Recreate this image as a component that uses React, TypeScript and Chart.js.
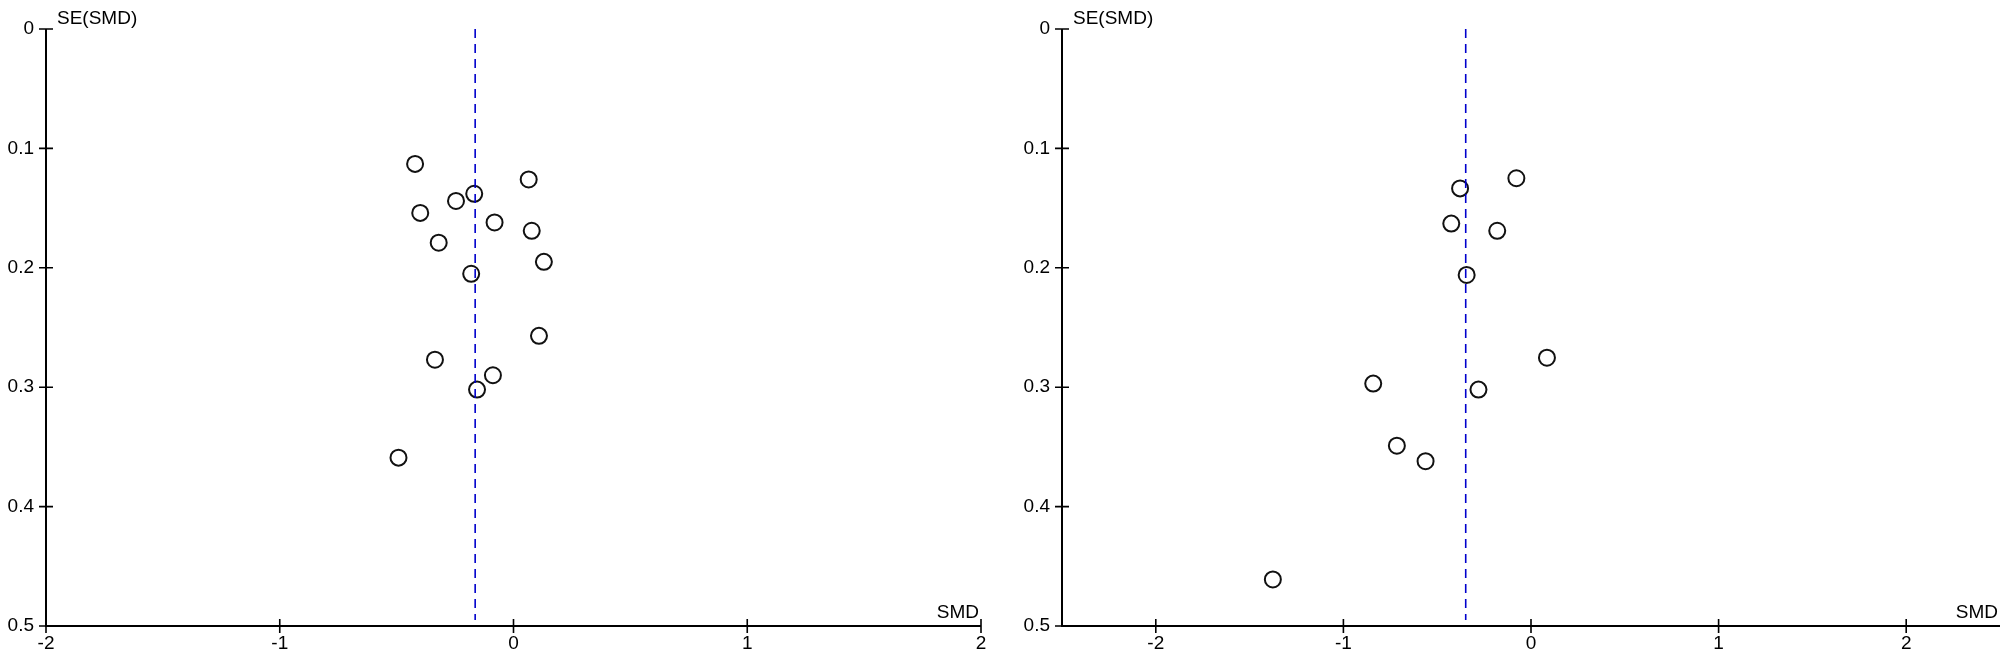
import React, { useEffect, useRef } from 'react';
import { Chart, registerables } from 'chart.js';

Chart.register(...registerables);

const FONT = "'Liberation Sans', Arial, Helvetica, sans-serif";

// Left funnel plot
const leftSMD = [-0.421, 0.065, -0.168, -0.246, -0.399, -0.081, 0.078, -0.32, 0.13, -0.181, 0.109, -0.336, -0.088, -0.156, -0.492];
const leftSE = [0.113, 0.126, 0.138, 0.144, 0.154, 0.162, 0.169, 0.179, 0.195, 0.205, 0.257, 0.277, 0.29, 0.302, 0.359];
const leftPooled = -0.164;
const leftXRange = [-2, 2];

// Right funnel plot
const rightSMD = [-0.078, -0.378, -0.425, -0.18, -0.343, 0.085, -0.841, -0.28, -0.715, -0.562, -1.376];
const rightSE = [0.125, 0.1335, 0.163, 0.169, 0.206, 0.2753, 0.297, 0.302, 0.349, 0.362, 0.461];
const rightPooled = -0.348;
const rightXRange = [-2.5, 2.5];

// Axes
const xTicks = [-2, -1, 0, 1, 2];
const xTickLabels = ['-2', '-1', '0', '1', '2'];
const seTicks = [0, 0.1, 0.2, 0.3, 0.4, 0.5];
const seTickLabels = ['0', '0.1', '0.2', '0.3', '0.4', '0.5'];
const seMax = 0.5;
const pooledLineEnd = 0.495;
const xTitle = 'SMD';
const yTitle = 'SE(SMD)';

const funnelAxes = {
  id: 'funnelAxes',
  afterDraw(chart: any) {
    const { ctx, chartArea, scales } = chart;
    const xs = scales.x;
    const ys = scales.y;
    const ax = chartArea.left;
    const yTop = ys.getPixelForValue(0);
    const yBot = ys.getPixelForValue(seMax);
    const xEnd = xs.getPixelForValue(xs.max);
    ctx.save();
    ctx.strokeStyle = '#000';
    ctx.lineWidth = 2;
    ctx.lineCap = 'butt';
    ctx.beginPath();
    ctx.moveTo(ax, yTop);
    ctx.lineTo(ax, yBot + 1);
    ctx.moveTo(ax - 1, yBot);
    ctx.lineTo(xEnd, yBot);
    ctx.stroke();
    ctx.lineWidth = 1.6;
    ctx.beginPath();
    seTicks.forEach((v) => {
      const p = ys.getPixelForValue(v);
      ctx.moveTo(ax - 7, p);
      ctx.lineTo(v === seMax ? ax : ax + 7, p);
    });
    xTicks.forEach((v) => {
      const p = xs.getPixelForValue(v);
      ctx.moveTo(p, p <= ax + 1 ? yBot : yBot - 7);
      ctx.lineTo(p, yBot + 7);
    });
    ctx.stroke();
    ctx.fillStyle = '#000';
    ctx.font = `19px ${FONT}`;
    ctx.textBaseline = 'alphabetic';
    ctx.textAlign = 'left';
    ctx.fillText(yTitle, ax + 11, yTop - 5);
    ctx.textAlign = 'right';
    ctx.fillText(xTitle, xEnd - 2, yBot - 8);
    ctx.restore();
  },
};

function makeConfig(smd: number[], se: number[], pooled: number, xRange: number[], yAxisWidth: number, padRight: number): any {
  return {
    type: 'scatter',
    data: {
      datasets: [
        {
          type: 'line',
          data: [
            { x: pooled, y: 0 },
            { x: pooled, y: pooledLineEnd },
          ],
          borderColor: '#0000cc',
          borderWidth: 1.6,
          borderDash: [9, 6],
          pointRadius: 0,
          fill: false,
        },
        {
          data: smd.map((v, i) => ({ x: v, y: se[i] })),
          pointStyle: 'circle',
          pointRadius: 8,
          pointBorderWidth: 2,
          borderColor: '#000',
          backgroundColor: 'rgba(0,0,0,0)',
          pointBackgroundColor: 'rgba(0,0,0,0)',
          pointBorderColor: '#111',
        },
      ],
    },
    options: {
      responsive: false,
      animation: false,
      devicePixelRatio: 1,
      layout: { padding: { top: 29, right: padRight, left: 0, bottom: 0 } },
      plugins: { legend: { display: false }, tooltip: { enabled: false }, title: { display: false } },
      scales: {
        x: {
          type: 'linear',
          min: xRange[0],
          max: xRange[1],
          afterBuildTicks: (scale: any) => {
            scale.ticks = xTicks.map((v) => ({ value: v }));
          },
          afterFit: (scale: any) => {
            scale.height = 35;
          },
          grid: { display: false, drawTicks: false },
          border: { display: false },
          ticks: {
            autoSkip: false,
            maxRotation: 0,
            padding: 6,
            color: '#000',
            font: { family: FONT, size: 19 },
            callback: (_v: any, i: number) => xTickLabels[i],
          },
        },
        y: {
          type: 'linear',
          reverse: true,
          min: 0,
          max: seMax,
          afterBuildTicks: (scale: any) => {
            scale.ticks = seTicks.map((v) => ({ value: v }));
          },
          afterFit: (scale: any) => {
            scale.width = yAxisWidth;
          },
          grid: { display: false, drawTicks: false },
          border: { display: false },
          ticks: {
            autoSkip: false,
            padding: 12,
            color: '#000',
            font: { family: FONT, size: 19 },
            callback: (_v: any, i: number) => seTickLabels[i],
          },
        },
      },
    },
    plugins: [funnelAxes],
  };
}

function FunnelChart(props: { config: any; left: number; width: number }) {
  const ref = useRef<HTMLCanvasElement | null>(null);
  useEffect(() => {
    if (!ref.current) return;
    const chart = new Chart(ref.current, props.config);
    return () => chart.destroy();
  }, []);
  return (
    <canvas
      ref={ref}
      width={props.width}
      height={661}
      style={{ position: 'absolute', left: props.left, top: 0, width: props.width, height: 661 }}
    />
  );
}

export default function App() {
  const leftConfig = makeConfig(leftSMD, leftSE, leftPooled, leftXRange, 46, 19);
  const rightConfig = makeConfig(rightSMD, rightSE, rightPooled, rightXRange, 62, 8);
  return (
    <div style={{ position: 'fixed', left: 0, top: 0, width: 2010, height: 661, background: '#fff', overflow: 'hidden' }}>
      <FunnelChart config={leftConfig} left={0} width={1000} />
      <FunnelChart config={rightConfig} left={1000} width={1010} />
    </div>
  );
}
